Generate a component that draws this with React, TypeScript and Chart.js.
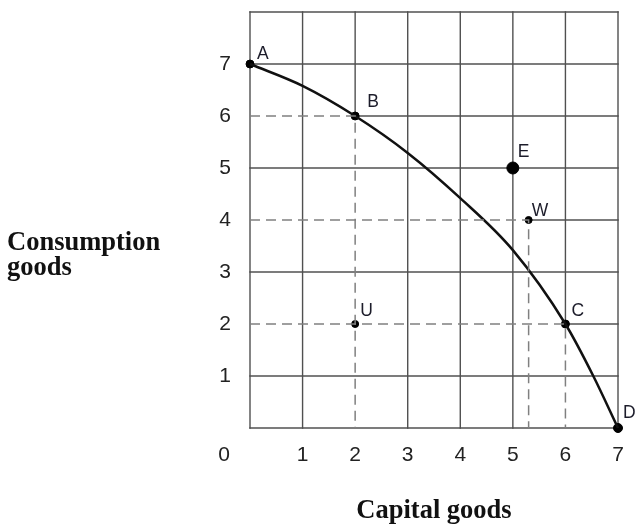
import React, { useEffect, useRef } from "react";
import { Chart, registerables } from "chart.js";

Chart.register(...registerables);

// ---- data ----
const curveX = [0, 1, 2, 3, 4, 5, 6, 6.53, 7];
const curveY = [7, 6.58, 6, 5.29, 4.42, 3.42, 2, 1, 0];

const pointNames = ["A", "B", "C", "D", "E", "W", "U"];
const pointX = [0, 2, 6, 7, 5, 5.3, 2];
const pointY = [7, 6, 2, 0, 5, 4, 2];

// guide (dashed) lines drop from these points to both axes
const guideNames = ["B", "W", "C"];

const xTickValues = [0, 1, 2, 3, 4, 5, 6, 7];
const yTickValues = [0, 1, 2, 3, 4, 5, 6, 7, 8];
const yTickLabels = ["1", "2", "3", "4", "5", "6", "7"];

const yTitleLines = ["Consumption", "goods"];
const xTitle = "Capital goods";

// ---- styles ----
const pointRadius: Record<string, number> = { A: 4, B: 4, C: 4, D: 4.5, E: 6, W: 3.5, U: 3.5 };
const labelOffset: Record<string, [number, number]> = {
  A: [7, -5],
  B: [12, -9],
  C: [6, -8],
  D: [5, -10],
  E: [5, -11],
  W: [3, -4],
  U: [5, -8],
};

const TICK_FONT = "21px 'Liberation Sans', Arial, sans-serif";
const LABEL_FONT = "17.5px 'Liberation Sans', Arial, sans-serif";
const TITLE_FONT = "bold 26.5px 'Liberation Serif', 'Times New Roman', serif";
const GRID_COLOR = "#505050";
const GRID_WIDTH = 1.4;

const guideIdx = guideNames.map((n) => pointNames.indexOf(n));

const gridPlugin = {
  id: "partialGrid",
  beforeDatasetsDraw(chart: any) {
    const ctx = chart.ctx as CanvasRenderingContext2D;
    const xs = chart.scales.x;
    const ys = chart.scales.y;
    ctx.save();
    ctx.strokeStyle = GRID_COLOR;
    ctx.lineWidth = GRID_WIDTH;
    ctx.lineCap = "butt";
    // horizontal lines
    yTickValues.forEach((v) => {
      let startX = xs.min;
      guideIdx.forEach((i) => {
        if (pointY[i] === v && v !== 0) startX = Math.max(startX, pointX[i]);
      });
      const py = ys.getPixelForValue(v);
      ctx.beginPath();
      ctx.moveTo(xs.getPixelForValue(startX) - (startX === xs.min ? GRID_WIDTH / 2 : 0), py);
      ctx.lineTo(xs.getPixelForValue(xs.max) + GRID_WIDTH / 2, py);
      ctx.stroke();
    });
    // vertical lines
    xTickValues.forEach((v) => {
      let startY = ys.min;
      guideIdx.forEach((i) => {
        if (pointX[i] === v && v !== 0) startY = Math.max(startY, pointY[i]);
      });
      const px = xs.getPixelForValue(v);
      ctx.beginPath();
      ctx.moveTo(px, ys.getPixelForValue(startY) + (startY === ys.min ? GRID_WIDTH / 2 : 0));
      ctx.lineTo(px, ys.getPixelForValue(ys.max) - GRID_WIDTH / 2);
      ctx.stroke();
    });
    ctx.restore();
  },
};

const extrasPlugin = {
  id: "extras",
  afterDatasetsDraw(chart: any) {
    const ctx = chart.ctx as CanvasRenderingContext2D;
    const xs = chart.scales.x;
    const ys = chart.scales.y;
    ctx.save();
    // point labels
    ctx.font = LABEL_FONT;
    ctx.fillStyle = "#1c1c2a";
    ctx.textAlign = "left";
    ctx.textBaseline = "bottom";
    pointNames.forEach((n, i) => {
      const px = xs.getPixelForValue(pointX[i]);
      const py = ys.getPixelForValue(pointY[i]);
      const off = labelOffset[n] || [6, -8];
      ctx.fillText(n, px + off[0], py + off[1] + 4);
    });
    // origin "0"
    ctx.font = TICK_FONT;
    ctx.fillStyle = "#222";
    ctx.textAlign = "center";
    ctx.textBaseline = "middle";
    ctx.fillText("0", ys.right - 26, xs.top + 27);
    // axis titles
    ctx.font = TITLE_FONT;
    ctx.fillStyle = "#111";
    ctx.textAlign = "left";
    ctx.textBaseline = "alphabetic";
    yTitleLines.forEach((t, i) => ctx.fillText(t, 7, 250 + i * 25));
    ctx.textAlign = "center";
    ctx.fillText(xTitle, (chart.chartArea.left + chart.chartArea.right) / 2, 518);
    ctx.restore();
  },
};

export default function App() {
  const ref = useRef<HTMLCanvasElement>(null);
  useEffect(() => {
    document.body.style.margin = "0";
    const canvas = ref.current!;
    const guideSets = guideIdx.map((i) => ({
      type: "line" as const,
      data: [
        { x: 0, y: pointY[i] },
        { x: pointX[i], y: pointY[i] },
        { x: pointX[i], y: 0 },
      ],
      borderColor: "#808080",
      borderWidth: 1.5,
      borderDash: [10, 6],
      pointRadius: 0,
      tension: 0,
      fill: false,
    }));
    const chart = new Chart(canvas, {
      type: "scatter",
      data: {
        datasets: [
          ...guideSets,
          {
            type: "line",
            data: curveX.map((x, i) => ({ x, y: curveY[i] })),
            borderColor: "#111",
            borderWidth: 2.5,
            pointRadius: 0,
            cubicInterpolationMode: "monotone",
            fill: false,
            clip: false,
          } as any,
          {
            type: "scatter",
            data: pointX.map((x, i) => ({ x, y: pointY[i] })),
            backgroundColor: "#000",
            borderColor: "#000",
            pointRadius: pointNames.map((n) => pointRadius[n]),
            pointHoverRadius: pointNames.map((n) => pointRadius[n]),
            clip: false,
          } as any,
        ],
      },
      options: {
        animation: false,
        responsive: false,
        events: [],
        layout: { padding: { top: 12, right: 19, left: 0, bottom: 0 } },
        plugins: { legend: { display: false }, tooltip: { enabled: false } },
        scales: {
          x: {
            type: "linear",
            min: 0,
            max: 7,
            border: { display: false },
            grid: { display: false, drawTicks: false },
            afterBuildTicks: (s: any) => {
              s.ticks = xTickValues.map((v) => ({ value: v }));
            },
            afterFit: (s: any) => {
              s.height = 97;
              s.paddingLeft = 0;
              s.paddingRight = 0;
            },
            ticks: {
              padding: 15,
              color: "#222",
              font: { family: "'Liberation Sans', Arial, sans-serif", size: 21 },
              callback: (v: any) => (v === 0 ? "" : String(v)),
            },
          },
          y: {
            type: "linear",
            min: 0,
            max: 8,
            border: { display: false },
            grid: { display: false, drawTicks: false },
            afterBuildTicks: (s: any) => {
              s.ticks = yTickValues.map((v) => ({ value: v }));
            },
            afterFit: (s: any) => {
              s.width = 250;
              s.paddingTop = 0;
              s.paddingBottom = 0;
            },
            ticks: {
              padding: 19,
              color: "#222",
              font: { family: "'Liberation Sans', Arial, sans-serif", size: 21 },
              callback: (v: any) => (v >= 1 && v <= 7 ? yTickLabels[v - 1] : ""),
            },
          },
        },
      },
      plugins: [gridPlugin, extrasPlugin],
    });
    return () => chart.destroy();
  }, []);
  return <canvas ref={ref} width={637} height={525} style={{ display: "block" }} />;
}
